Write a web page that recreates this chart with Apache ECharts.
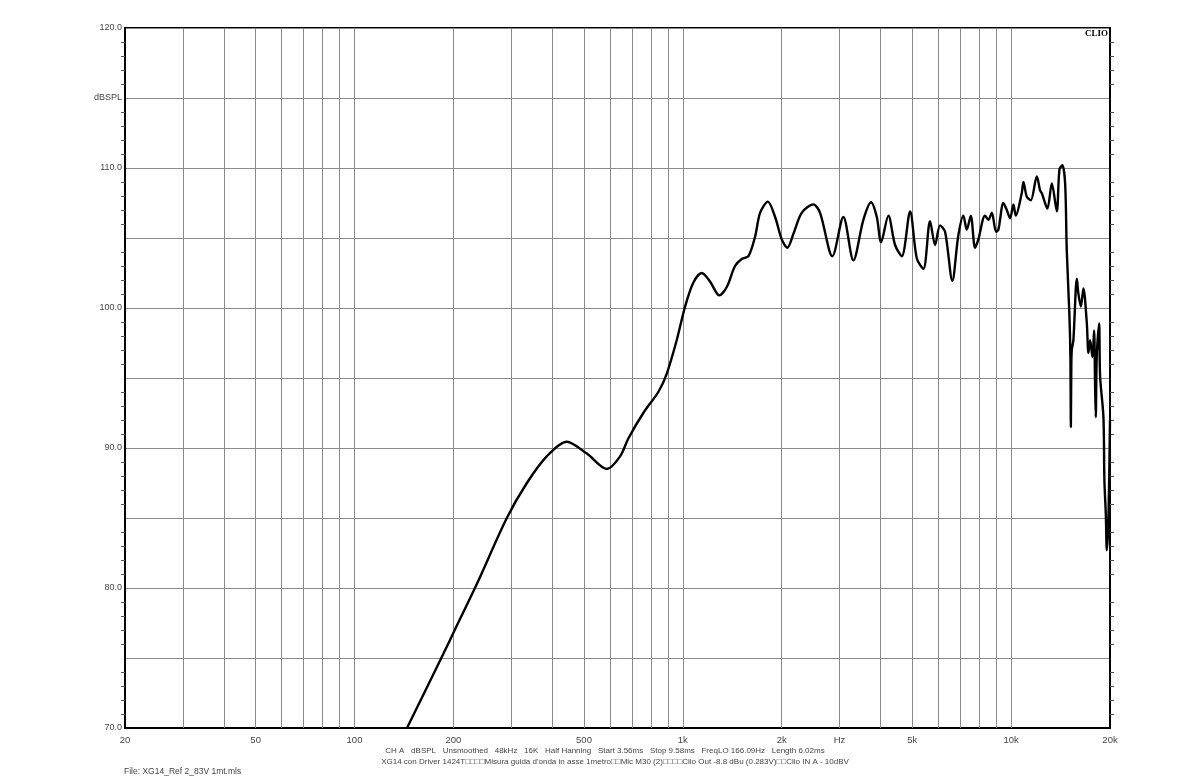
<!DOCTYPE html>
<html>
<head>
<meta charset="utf-8">
<script src="https://cdn.jsdelivr.net/npm/echarts@6/dist/echarts.min.js"></script>
<style>
html,body{margin:0;padding:0;background:#fff;}
#c{width:1200px;height:780px;}
</style>
</head>
<body>
<div id="c"></div>
<script>
// ---- data ----
const freqHz = [144.5,186.5,202,236,291,335,385,443,510,587,644,683,758,842,893,958,1016,1076,1142,1210,1292,1361,1442,1512,1584,1660,1719,1815,1910,2001,2082,2172,2302,2498,2618,2854,3083,3307,3547,3744,3897,4016,4227,4430,4643,4922,5158,5403,5662,5865,6074,6291,6620,6905,7152,7324,7533,7763,7946,8326,8522,8730,8997,9143,9470,9698,9925,10160,10330,10770,10900,11160,11480,11970,12250,12400,12890,13300,13770,14030,14320,14600,14770,15050,15150,15200,15250,15300,15470,15850,16020,16300,16600,17000,17190,17400,17680,17890,18000,18100,18200,18310,18530,18660,19100,19230,19420,19560,19780,20000];
const splDb = [70.0,75.3,77.0,80.3,85.0,87.5,89.4,90.45,89.6,88.5,89.4,90.7,92.5,94.0,95.3,97.7,100.1,101.8,102.5,101.9,100.9,101.5,103.0,103.5,103.7,105.1,106.8,107.6,106.5,104.9,104.3,105.3,106.8,107.4,106.8,103.7,106.5,103.4,106.3,107.55,106.5,104.7,106.6,104.5,103.7,106.9,103.55,102.8,106.2,104.5,105.9,105.45,101.95,105.2,106.6,105.6,106.6,104.3,104.9,106.6,106.3,106.8,105.45,105.6,107.5,107.0,106.4,107.4,106.6,108.2,109.0,107.95,107.7,109.4,108.4,108.2,107.1,108.9,106.9,109.9,110.2,108.9,104.1,99.4,96.5,91.5,96.0,97.0,97.7,102.1,101.05,100.1,101.4,98.9,96.8,97.7,96.5,98.4,95.0,92.2,96.0,97.5,98.9,95.1,92.2,87.7,85.3,82.7,84.9,92.0];
const xTickValues = [20,50,100,200,500,1000,2000,3000,5000,10000,20000];
const xTickLabels = ['20','50','100','200','500','1k','2k','Hz','5k','10k','20k'];
const xGridValues = [30,40,50,60,70,80,90,100,200,300,400,500,600,700,800,900,1000,2000,3000,4000,5000,6000,7000,8000,9000,10000];
const yMin = 70, yMax = 120, yStep = 5;
const infoLine1 = 'CH A   dBSPL   Unsmoothed   48kHz   16K   Half Hanning   Start 3.56ms   Stop 9.58ms   FreqLO 166.09Hz   Length 6.02ms';
const infoLine2 = 'XG14 con Driver 1424T\u25A1\u25A1\u25A1\u25A1Misura guida d\'onda in asse 1metro\u25A1\u25A1Mic M30 (2)\u25A1\u25A1\u25A1\u25A1Clio Out -8.8 dBu (0.283V)\u25A1\u25A1Clio IN A - 10dBV';
const fileLine = 'File: XG14_Ref 2_83V 1mt.mls';

const chart = echarts.init(document.getElementById('c'), null, {renderer:'canvas'});
const FONT = 'Liberation Sans, Arial, sans-serif';
const data = freqHz.map((f,i)=>[f, splDb[i]]);

chart.setOption({
  animation:false,
  backgroundColor:'#fff',
  grid:{left:125,right:90,top:28,bottom:52,show:true,borderColor:'#000',borderWidth:2,backgroundColor:'transparent'},
  xAxis:{
    type:'log', logBase:10, min:20, max:20000,
    axisLine:{show:true,lineStyle:{color:'#000',width:2}},
    axisTick:{show:false},
    splitLine:{show:false},
    minorSplitLine:{show:false},
    axisLabel:{
      customValues:xTickValues,
      formatter:function(v){const i=xTickValues.findIndex(t=>Math.abs(t-v)/t<1e-6);return i>=0?xTickLabels[i]:'';},
      color:'#444', fontSize:9.5, fontFamily:FONT, margin:7, showMinLabel:true, showMaxLabel:true
    }
  },
  yAxis:[{
    type:'value', min:yMin, max:yMax, interval:yStep, position:'left',
    axisLine:{show:true,lineStyle:{color:'#000',width:2}},
    axisTick:{show:false},
    minorTick:{show:true,splitNumber:5,length:4,lineStyle:{color:'#555',width:1}},
    splitLine:{show:true,lineStyle:{color:'#8a8a8a',width:1}},
    axisLabel:{
      formatter:function(v){ if(Math.abs(v-115)<1e-6) return 'dBSPL'; return (Math.round(v)%10===0)?v.toFixed(1):''; },
      color:'#444', fontSize:9, fontFamily:FONT, margin:3
    }
  },{
    type:'value', min:yMin, max:yMax, interval:yStep, position:'right',
    axisLine:{show:true,lineStyle:{color:'#000',width:2}},
    axisTick:{show:false},
    minorTick:{show:true,splitNumber:5,length:4,lineStyle:{color:'#555',width:1}},
    splitLine:{show:false},
    axisLabel:{show:false}
  }],
  graphic:[
    {type:'text',x:1108,y:29,style:{text:'CLIO',font:'bold 9px "Liberation Serif", serif',fill:'#000',textAlign:'right'}},
    {type:'text',x:605,y:747,style:{text:infoLine1,font:'8px '+FONT,fill:'#444',textAlign:'center'}},
    {type:'text',x:615,y:758,style:{text:infoLine2,font:'8px '+FONT,fill:'#444',textAlign:'center'}},
    {type:'text',x:124,y:767,style:{text:fileLine,font:'8.5px '+FONT,fill:'#444',textAlign:'left'}}
  ],
  series:[{
    type:'line', data:data, showSymbol:false, smooth:0.3,
    lineStyle:{color:'#000',width:2.4}, clip:true, z:5,
    markLine:{
      silent:true, symbol:['none','none'], label:{show:false},
      lineStyle:{color:'#8a8a8a',width:1,type:'solid'},
      data:xGridValues.map(v=>({xAxis:v})), z:1
    }
  }]
});
</script>
</body>
</html>
